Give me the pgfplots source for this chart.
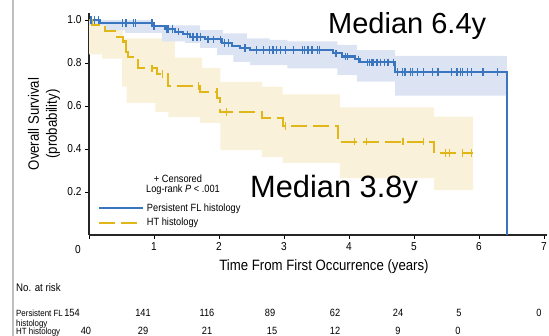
\documentclass[border=0pt]{standalone}
\usepackage{fontspec}
\setmainfont{Liberation Sans}[FakeStretch=0.88]
\newfontfamily\arialfont{Liberation Sans}
\usepackage{pgfplots}
\pgfplotsset{compat=1.18}
\definecolor{kmblue}{RGB}{58,118,192}
\definecolor{kmblueband}{RGB}{220,228,244}
\definecolor{kmyellow}{RGB}{224,182,24}
\definecolor{kmyellowband}{RGB}{249,241,217}
\newcommand\fs[2]{\fontsize{#1bp}{#2bp}\selectfont}
\begin{document}
\begin{tikzpicture}
\path[use as bounding box] (0bp,0bp) rectangle (549bp,336bp);
\draw[black!25, line width=1.2bp] (13bp,0bp) -- (13bp,336bp);
\begin{axis}[
  at={(89bp,101bp)}, anchor=south west,
  scale only axis, width=458.25bp, height=222.1bp,
  xmin=0, xmax=7.05, ymin=0, ymax=1.033,
  axis x line*=bottom, axis y line*=left,
  axis line style={line width=1.3bp, black!85},
  xtick={0,1,2,3,4,5,6,7}, xticklabels={,1,2,3,4,5,6,7},
  ytick={0.2,0.4,0.6,0.8,1.0}, yticklabels={0.2,0.4,0.6,0.8,1.0},
  tick align=outside, major tick length=4bp,
  tick style={line width=0.9bp, black},
  /pgf/number format/assume math mode=true,
  ticklabel style={font=\fs{11.5}{13}},
  clip=false,
  legend cell align=left,
  legend style={at={(axis cs:0.138,0.152)}, anchor=north west, draw=none, fill=none,
    inner sep=0pt, font=\fs{10.5}{12}, row sep=3bp, column sep=1.5bp,
    nodes={inner sep=1.2bp}},
  legend image code/.code={\draw[#1] (0bp,0bp) -- (44bp,0bp);},
]
% confidence bands
\addplot[fill=kmyellowband, draw=none, forget plot] coordinates {
(0,1.0)(0.25,1.0)(0.25,0.97)(0.52,0.97)(0.52,0.915)(1.32,0.915)(1.32,0.825)(1.74,0.825)(1.74,0.777)(2.02,0.777)(2.02,0.712)(2.66,0.712)(2.66,0.69)(2.98,0.69)(2.98,0.654)(3.86,0.654)(3.86,0.594)(5.31,0.594)(5.31,0.55)(5.91,0.55)
(5.91,0.209)(5.31,0.209)(5.31,0.265)(3.86,0.265)(3.86,0.335)(2.98,0.335)(2.98,0.363)(2.66,0.363)(2.66,0.395)(2.02,0.395)(2.02,0.521)(1.71,0.521)(1.71,0.549)(1.22,0.549)(1.22,0.573)(1.02,0.573)(1.02,0.614)(0.58,0.614)(0.58,0.69)(0.51,0.69)(0.51,0.82)(0.2,0.82)(0.2,0.84)(0,0.84)
} -- cycle;
\addplot[fill=kmblueband, draw=none, forget plot] coordinates {
(0,1.0)(0.97,1.0)(0.97,0.975)(1.71,0.975)(1.71,0.953)(2.06,0.953)(2.06,0.938)(2.43,0.938)(2.43,0.915)(2.78,0.915)(2.78,0.907)(3.05,0.907)(3.05,0.90)(3.82,0.90)(3.82,0.884)(4.12,0.884)(4.12,0.86)(4.71,0.86)(4.71,0.833)(6.43,0.833)
(6.43,0.648)(4.71,0.648)(4.71,0.713)(4.12,0.713)(4.12,0.744)(3.82,0.744)(3.82,0.775)(3.05,0.775)(3.05,0.79)(2.48,0.79)(2.48,0.805)(2.22,0.805)(2.22,0.837)(1.97,0.837)(1.97,0.87)(1.71,0.87)(1.71,0.893)(1.48,0.893)(1.48,0.90)(1.12,0.90)(1.12,0.94)(0.55,0.94)(0.55,0.953)(0.25,0.953)(0.25,0.977)(0,0.977)
} -- cycle;
% survival curves
\addplot[const plot, color=kmblue, line width=2.1bp] coordinates {
(0,1.0)(0.17,0.987)(0.98,0.972)(1.17,0.957)(1.32,0.946)(1.45,0.933)(1.55,0.922)(1.78,0.910)(2.05,0.894)(2.20,0.880)(2.32,0.871)(2.48,0.860)(3.75,0.845)(3.89,0.830)(4.09,0.817)(4.17,0.803)(4.71,0.758)(6.43,0.758)(6.43,0)
};
\addlegendentry{Persistent FL histology}
\addplot[const plot, color=kmyellow, line width=2.1bp, dash pattern=on 16bp off 6bp] coordinates {
(0,1.0)(0.05,0.975)(0.25,0.95)(0.40,0.922)(0.52,0.90)(0.57,0.853)(0.60,0.826)(0.75,0.775)(1.04,0.749)(1.22,0.693)(1.71,0.667)(1.97,0.636)(2.02,0.573)(2.66,0.543)(2.98,0.507)(3.83,0.434)(5.31,0.38)(5.91,0.38)
};
\addlegendentry{HT histology}
% censor marks
\addplot[only marks, mark=|, mark size=3.8bp, color=kmblue, mark options={line width=1.2bp}, forget plot] coordinates {
(0.03,1.0)(0.08,1.0)(0.14,1.0)
(0.52,0.987)(0.57,0.987)(0.68,0.987)(0.71,0.987)(1.0,0.972)(0.97,0.987)
(1.2,0.957)(1.22,0.957)(1.28,0.957)
(1.38,0.946)(1.52,0.933)(1.6,0.922)(1.66,0.922)(1.72,0.922)
(1.83,0.910)(1.91,0.910)(2.02,0.910)(2.08,0.894)(2.14,0.894)
(2.4,0.871)(2.58,0.86)(2.68,0.86)(2.78,0.86)(2.83,0.86)(2.89,0.86)(2.94,0.86)(3.02,0.86)
(3.14,0.86)(3.28,0.86)(3.32,0.86)(3.37,0.86)(3.43,0.86)(3.51,0.86)(3.55,0.86)
(3.80,0.845)(3.94,0.83)(3.98,0.83)(4.14,0.817)
(4.28,0.803)(4.32,0.803)(4.35,0.803)(4.37,0.803)(4.43,0.803)(4.48,0.803)(4.55,0.803)(4.6,0.803)(4.68,0.803)
(4.75,0.758)(4.82,0.758)(4.86,0.758)(4.94,0.758)(4.98,0.758)(5.05,0.758)(5.14,0.758)(5.28,0.758)(5.37,0.758)
(5.58,0.758)(5.66,0.758)(5.71,0.758)(5.75,0.758)(5.82,0.758)(5.89,0.758)(6.06,0.758)(6.29,0.758)
};
\addplot[only marks, mark=|, mark size=3.8bp, color=kmyellow, mark options={line width=1.2bp}, forget plot] coordinates {
(0.57,0.875)(0.97,0.775)(1.13,0.749)(1.69,0.693)(1.97,0.667)(2.11,0.573)(3.02,0.507)
(4.09,0.434)(4.27,0.434)(4.83,0.434)(5.14,0.434)(5.48,0.38)(5.55,0.38)(5.75,0.38)(5.89,0.38)
};
\end{axis}
% zero tick label
\node[font=\fs{11.5}{13}, inner sep=0pt] at (78bp,86bp) {0};
% axis labels
\node[font=\fs{15}{18}, rotate=90, align=center, inner sep=0pt] at (44bp,212bp) {Overall Survival\\(probability)};
\node[font=\fs{15}{18}, inner sep=0pt] at (324bp,69bp) {Time From First Occurrence (years)};
% annotations
\node[font=\arialfont\fs{29}{34}, anchor=base west, inner sep=0pt] at (328bp,302.7bp) {Median 6.4y};
\node[font=\arialfont\fs{30.8}{36}, anchor=base west, inner sep=0pt] at (250bp,138bp) {Median 3.8y};
\node[font=\fs{10.5}{12}, inner sep=0pt] at (178bp,157bp) {+ Censored};
\node[font=\fs{10.5}{12}, inner sep=0pt] at (183bp,146bp) {Log-rank \textit{P} < .001};
% number at risk table
\begin{scope}[every node/.style={font=\fs{10.5}{12}, inner sep=0pt, anchor=base}]
\node[anchor=base west, font=\fs{11}{12}] at (16bp,44.5bp) {No. at risk};
\node[anchor=base west, font=\fs{9}{10}] at (16bp,19.5bp) {Persistent FL};
\node[anchor=base west, font=\fs{9}{10}] at (16bp,10bp) {histology};
\node[anchor=base west, font=\fs{9}{10}] at (16bp,1.8bp) {HT histology};
\node at (72bp,19.5bp) {154};
\node at (143bp,19.5bp) {141};
\node at (207bp,19.5bp) {116};
\node at (270bp,19.5bp) {89};
\node at (335bp,19.5bp) {62};
\node at (398bp,19.5bp) {24};
\node at (459bp,19.5bp) {5};
\node at (539bp,19.5bp) {0};
\node at (86bp,1.8bp) {40};
\node at (143bp,1.8bp) {29};
\node at (207bp,1.8bp) {21};
\node at (272bp,1.8bp) {15};
\node at (335bp,1.8bp) {12};
\node at (398bp,1.8bp) {9};
\node at (458bp,1.8bp) {0};
\end{scope}
\end{tikzpicture}
\end{document}
